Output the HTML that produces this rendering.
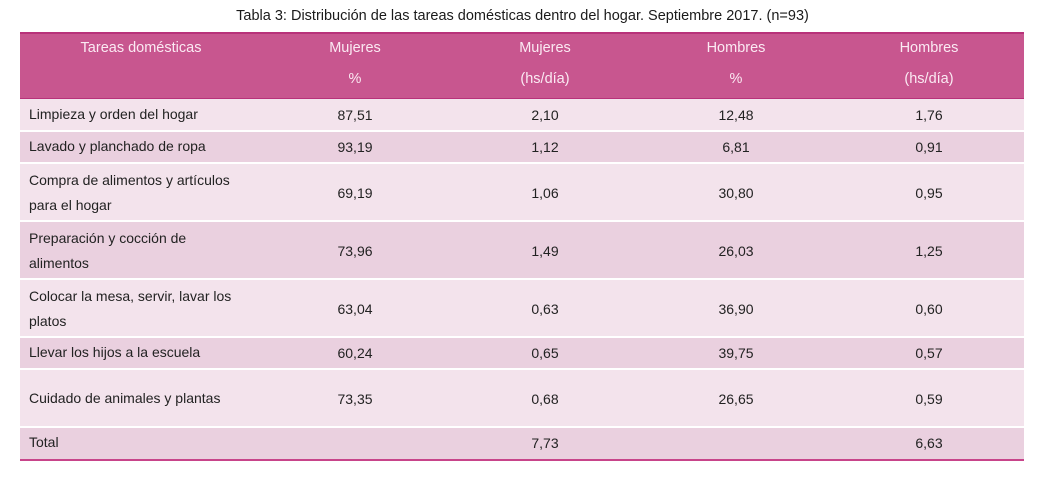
<!DOCTYPE html>
<html><head><meta charset="utf-8"><style>
body{margin:0;width:1045px;height:497px;background:#fff;font-family:"Liberation Sans",sans-serif;position:relative;overflow:hidden}
.t{position:absolute;top:8px;left:0;width:1045px;text-align:center;font-size:14.5px;color:#1a1a1a}
.hd{position:absolute;left:20px;width:1004px;top:32px;height:64px;background:#c8568f;border-top:2px solid #b8327a;border-bottom:2px solid #b8327a}
.r{position:absolute;left:20px;width:1004px}
.a{background:#f3e3ec}.b{background:#ead0df}
.c{position:absolute;font-size:14px;color:#222;transform:translateX(-50%);white-space:nowrap}
.l{position:absolute;left:9px;font-size:14px;color:#222;line-height:25px}
.h{position:absolute;font-size:14.5px;color:#fbeaf3;transform:translateX(-50%);white-space:nowrap}
</style></head><body>
<div class="t">Tabla 3: Distribución de las tareas domésticas dentro del hogar. Septiembre 2017. (n=93)</div>
<div class="hd"></div>
<div class="h" style="left:141px;top:40px">Tareas domésticas</div>
<div class="h" style="left:355px;top:40px">Mujeres</div>
<div class="h" style="left:355px;top:71px">%</div>
<div class="h" style="left:545px;top:40px">Mujeres</div>
<div class="h" style="left:545px;top:71px">(hs/día)</div>
<div class="h" style="left:736px;top:40px">Hombres</div>
<div class="h" style="left:736px;top:71px">%</div>
<div class="h" style="left:929px;top:40px">Hombres</div>
<div class="h" style="left:929px;top:71px">(hs/día)</div>

<div class="r a" style="top:99px;height:31px"></div>
<div class="r b" style="top:132px;height:30px"></div>
<div class="r a" style="top:164px;height:56px"></div>
<div class="r b" style="top:222px;height:56px"></div>
<div class="r a" style="top:280px;height:56px"></div>
<div class="r b" style="top:338px;height:30px"></div>
<div class="r a" style="top:370px;height:56px"></div>
<div class="r b" style="top:428px;height:31px"></div>
<div class="r" style="top:459px;height:2px;background:#c8448a"></div>

<div class="l" style="left:29px;top:102px">Limpieza y orden del hogar</div>
<div class="l" style="left:29px;top:134px">Lavado y planchado de ropa</div>
<div class="l" style="left:29px;top:168px">Compra de alimentos y artículos<br>para el hogar</div>
<div class="l" style="left:29px;top:226px">Preparación y cocción de<br>alimentos</div>
<div class="l" style="left:29px;top:284px">Colocar la mesa, servir, lavar los<br>platos</div>
<div class="l" style="left:29px;top:340px">Llevar los hijos a la escuela</div>
<div class="l" style="left:29px;top:386px">Cuidado de animales y plantas</div>
<div class="l" style="left:29px;top:430px">Total</div>

<div class="c" style="left:355px;top:107px">87,51</div><div class="c" style="left:545px;top:107px">2,10</div><div class="c" style="left:736px;top:107px">12,48</div><div class="c" style="left:929px;top:107px">1,76</div>
<div class="c" style="left:355px;top:139px">93,19</div><div class="c" style="left:545px;top:139px">1,12</div><div class="c" style="left:736px;top:139px">6,81</div><div class="c" style="left:929px;top:139px">0,91</div>
<div class="c" style="left:355px;top:185px">69,19</div><div class="c" style="left:545px;top:185px">1,06</div><div class="c" style="left:736px;top:185px">30,80</div><div class="c" style="left:929px;top:185px">0,95</div>
<div class="c" style="left:355px;top:243px">73,96</div><div class="c" style="left:545px;top:243px">1,49</div><div class="c" style="left:736px;top:243px">26,03</div><div class="c" style="left:929px;top:243px">1,25</div>
<div class="c" style="left:355px;top:301px">63,04</div><div class="c" style="left:545px;top:301px">0,63</div><div class="c" style="left:736px;top:301px">36,90</div><div class="c" style="left:929px;top:301px">0,60</div>
<div class="c" style="left:355px;top:345px">60,24</div><div class="c" style="left:545px;top:345px">0,65</div><div class="c" style="left:736px;top:345px">39,75</div><div class="c" style="left:929px;top:345px">0,57</div>
<div class="c" style="left:355px;top:391px">73,35</div><div class="c" style="left:545px;top:391px">0,68</div><div class="c" style="left:736px;top:391px">26,65</div><div class="c" style="left:929px;top:391px">0,59</div>
<div class="c" style="left:545px;top:435px">7,73</div><div class="c" style="left:929px;top:435px">6,63</div>
</body></html>
